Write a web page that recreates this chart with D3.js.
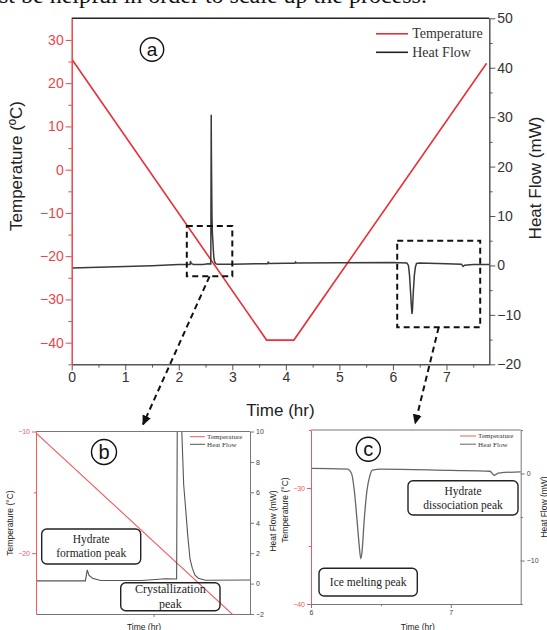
<!DOCTYPE html>
<html>
<head>
<meta charset="utf-8">
<script src="https://cdnjs.cloudflare.com/ajax/libs/d3/7.8.5/d3.min.js"></script>
<style>
body { margin: 0; background: #fff; }
svg { display: block; }
</style>
</head>
<body>
<script>
// temperature program (time in hr, temperature in ºC)
var tempTime  = [0, 3.64, 4.15, 7.75];
var tempValue = [25.6, -39.4, -39.4, 24.6];

// heat flow trace (time in hr, heat flow in mW)
var flowTime  = [0, 0.5, 1.0, 1.5, 2.0, 2.21, 2.218, 2.225, 2.24, 2.275, 2.45, 2.55, 2.598,
                 2.606, 2.61, 2.62, 2.628, 2.637, 2.645, 2.655, 2.665, 2.676, 2.69, 2.72,
                 3.0, 3.5, 3.66, 3.67, 3.69, 4.0, 4.17, 4.18, 4.2, 5.0, 6.0, 6.26, 6.29,
                 6.31, 6.33, 6.345, 6.356, 6.365, 6.38, 6.40, 6.42, 6.44, 6.5, 7.0, 7.28,
                 7.31, 7.34, 7.5, 7.8];
var flowValue = [-0.5, -0.35, -0.2, -0.05, 0.18, 0.18, 0.9, 0.55, 0.35, 0.2, 0.2, 0.32, 0.3,
                 30.5, 22, 10, 6.5, 4.8, 3.2, 1.6, 1.0, 0.55, 0.35, 0.22,
                 0.25, 0.35, 0.35, 0.65, 0.4, 0.45, 0.45, 0.7, 0.5, 0.55, 0.58, 0.5, 0,
                 -2, -5.5, -8.3, -9.8, -9, -5.5, -2, -0.3, 0.4, 0.5, 0.35, 0.26,
                 -0.2, 0.05, 0.18, 0.2];

// tick labels, main panel (a)
var timeTicks = [0, 1, 2, 3, 4, 5, 6, 7];
var timeMinor = [0.5, 1.5, 2.5, 3.5, 4.5, 5.5, 6.5, 7.5];
var tempTicks = [-40, -30, -20, -10, 0, 10, 20, 30];
var tempMinor = [-45, -35, -25, -15, -5, 5, 15, 25];
var flowTicks = [-20, -10, 0, 10, 20, 30, 40, 50];
var flowMinor = [-15, -5, 5, 15, 25, 35, 45];

// zoom windows drawn on panel (a): [t0, t1] and [flow0, flow1]
var boxBTime = [2.15, 3.0],  boxBFlow = [-2.2, 8];
var boxCTime = [6.08, 7.63], boxCFlow = [-12.5, 5];
var arrowTargetB = 2.455, arrowTargetC = 6.745;

// panel (b) ticks
var bTempTicks = [-20, -10], bTempMinor = [-15];
var bFlowTicks = [-2, 0, 2, 4, 6, 8, 10];
var bTimeTicks = [2.5];

// panel (c) ticks
var cTempTicks = [-40, -30], cTempMinor = [-35, -25];
var cFlowTicks = [-10, 0], cFlowMinor = [-15, -5, 5];
var cTimeTicks = [6, 7], cTimeMinor = [6.5];

var seriesNames = ["Temperature", "Heat Flow"];

var red = "#e8464b", redLine = "#ea2f36", gray = "#555", ink = "#333";
var sans = "'Liberation Sans', Arial, sans-serif";
var serif = "'Liberation Serif', 'Times New Roman', serif";

var tempPoints = d3.zip(tempTime, tempValue);
var flowPoints = d3.zip(flowTime, flowValue);

var svg = d3.select("body").append("svg")
    .attr("width", 547)
    .attr("height", 630);

var defs = svg.append("defs");
defs.append("marker")
    .attr("id", "arrowhead")
    .attr("markerUnits", "userSpaceOnUse")
    .attr("viewBox", "0 -5 10 10")
    .attr("refX", 9).attr("refY", 0)
    .attr("markerWidth", 10).attr("markerHeight", 10)
    .attr("orient", "auto")
    .append("path")
    .attr("d", "M0,-4.5L10,0L0,4.5Z")
    .attr("fill", "#111");

// cropped line of body text above the figure
svg.append("text")
    .attr("x", -1).attr("y", 3)
    .style("font-family", serif).style("font-size", "24px").attr("fill", "#111")
    .text("st be helpful in order to scale up the process.");

function clipFor(id, box) {
    defs.append("clipPath").attr("id", id)
        .append("rect")
        .attr("x", box.left).attr("y", box.top)
        .attr("width", box.right - box.left).attr("height", box.bottom - box.top);
    return "url(#" + id + ")";
}

// draws an axis with labelled ticks and unlabelled minor ticks
function drawAxis(g, axisFn, scale, major, minor, size, color, fontSize, fmt) {
    var ax = axisFn(scale).tickValues(major).tickSize(size).tickSizeOuter(0).tickPadding(2);
    if (fmt) ax.tickFormat(fmt);
    g.call(ax);
    if (minor && minor.length) {
        g.append("g").call(axisFn(scale).tickValues(minor).tickSize(size * 0.55)
            .tickSizeOuter(0).tickFormat(""))
            .select(".domain").remove();
    }
    g.selectAll("path, line").attr("stroke", color);
    g.selectAll("text").attr("fill", color)
        .style("font-family", sans).style("font-size", fontSize + "px");
}

function circledLetter(cx, cy, r, letter, fs) {
    svg.append("circle").attr("cx", cx).attr("cy", cy).attr("r", r)
        .attr("fill", "none").attr("stroke", "#111").attr("stroke-width", 1.4);
    svg.append("text").attr("x", cx).attr("y", cy + fs * 0.34)
        .attr("text-anchor", "middle")
        .style("font-family", sans).style("font-size", fs + "px").attr("fill", "#111")
        .text(letter);
}

function legend(x, y, gap, len, fs, colors) {
    seriesNames.forEach(function(name, i) {
        svg.append("line")
            .attr("x1", x).attr("x2", x + len)
            .attr("y1", y + i * gap).attr("y2", y + i * gap)
            .attr("stroke", colors[i]).attr("stroke-width", fs > 10 ? 1.6 : 1);
        svg.append("text")
            .attr("x", x + len + fs * 0.3).attr("y", y + i * gap + fs * 0.33)
            .style("font-family", serif).style("font-size", fs + "px").attr("fill", ink)
            .text(name);
    });
}

function note(x, y, w, h, lines, fs) {
    svg.append("rect").attr("x", x).attr("y", y).attr("width", w).attr("height", h)
        .attr("rx", 5).attr("ry", 5)
        .attr("fill", "none").attr("stroke", "#222").attr("stroke-width", 1.4);
    var lh = fs * 1.22;
    var y0 = y + h / 2 - (lines.length - 1) * lh / 2 + fs * 0.33;
    lines.forEach(function(l, i) {
        svg.append("text").attr("x", x + w / 2).attr("y", y0 + i * lh)
            .attr("text-anchor", "middle")
            .style("font-family", serif).style("font-size", fs + "px").attr("fill", "#222")
            .text(l);
    });
}

function axisTitle(x, y, rotate, text, fs) {
    svg.append("text")
        .attr("transform", "translate(" + x + "," + y + ")" + (rotate ? " rotate(-90)" : ""))
        .attr("text-anchor", "middle")
        .style("font-family", sans).style("font-size", fs + "px").attr("fill", "#222")
        .text(text);
}

// ---------- panel (a) ----------
var pa = { left: 71.7, right: 489.3, top: 18.3, bottom: 364.3 };
var xA = d3.scaleLinear().domain([0, 7.8]).range([pa.left, pa.right]);
var tA = d3.scaleLinear().domain([-45, 35]).range([pa.bottom, pa.top]);
var fA = d3.scaleLinear().domain([-20, 50]).range([pa.bottom, pa.top]);

var clipA = clipFor("clipA", pa);

svg.append("path")
    .datum(tempPoints)
    .attr("clip-path", clipA)
    .attr("fill", "none").attr("stroke", redLine).attr("stroke-width", 1.6)
    .attr("d", d3.line().x(function(d) { return xA(d[0]); }).y(function(d) { return tA(d[1]); }));

svg.append("path")
    .datum(flowPoints)
    .attr("clip-path", clipA)
    .attr("fill", "none").attr("stroke", "#3a3a3a").attr("stroke-width", 1.5)
    .attr("d", d3.line().x(function(d) { return xA(d[0]); }).y(function(d) { return fA(d[1]); }));

// top frame
svg.append("line")
    .attr("x1", pa.left).attr("x2", pa.right).attr("y1", pa.top).attr("y2", pa.top)
    .attr("stroke", "#222").attr("stroke-width", 1.5);

var axA = svg.append("g").attr("transform", "translate(0," + pa.bottom + ")");
drawAxis(axA, d3.axisBottom, xA, timeTicks, timeMinor, 6, gray, 14);
axA.selectAll("text").attr("fill", ink);
var ayA = svg.append("g").attr("transform", "translate(" + pa.left + ",0)");
drawAxis(ayA, d3.axisLeft, tA, tempTicks, tempMinor, 6, red, 14, d3.format("d"));
var ryA = svg.append("g").attr("transform", "translate(" + pa.right + ",0)");
drawAxis(ryA, d3.axisRight, fA, flowTicks, flowMinor, 6, gray, 14, d3.format("d"));
ryA.selectAll("text").attr("fill", ink);
svg.selectAll(".domain").attr("stroke-width", 1.5);

axisTitle(22, 166, true, "Temperature (ºC)", 17);
axisTitle(541, 178, true, "Heat Flow (mW)", 17);
axisTitle((pa.left + pa.right) / 2, 416, false, "Time (hr)", 17);

legend(376, 33.8, 18.5, 32, 14, [redLine, "#222"]);
circledLetter(152, 49.5, 11.7, "a", 19);

// ---------- panel (b) ----------
var pb = { left: 36, right: 250, top: 431.5, bottom: 614 };
var xB = d3.scaleLinear().domain([2.0, 2.91]).range([pb.left, pb.right]);
var tB = d3.scaleLinear().domain([-25, -10]).range([pb.bottom, pb.top]);
var fB = d3.scaleLinear().domain([-2, 10]).range([pb.bottom, pb.top]);
var clipB = clipFor("clipB", pb);

svg.append("path").datum(tempPoints).attr("clip-path", clipB)
    .attr("fill", "none").attr("stroke", "#f05a5e").attr("stroke-width", 1.1)
    .attr("d", d3.line().x(function(d) { return xB(d[0]); }).y(function(d) { return tB(d[1]); }));
svg.append("path").datum(flowPoints).attr("clip-path", clipB)
    .attr("fill", "none").attr("stroke", "#555").attr("stroke-width", 1.1)
    .attr("d", d3.line().x(function(d) { return xB(d[0]); }).y(function(d) { return fB(d[1]); }));

svg.append("line")
    .attr("x1", pb.left).attr("x2", pb.right).attr("y1", pb.top).attr("y2", pb.top)
    .attr("stroke", "#777").attr("stroke-width", 1);

var axB = svg.append("g").attr("transform", "translate(0," + pb.bottom + ")");
drawAxis(axB, d3.axisBottom, xB, bTimeTicks, [], 3, "#777", 7, function() { return ""; });
var ayB = svg.append("g").attr("transform", "translate(" + pb.left + ",0)");
drawAxis(ayB, d3.axisLeft, tB, bTempTicks, bTempMinor, 4, "#f05a5e", 7, d3.format("d"));
var ryB = svg.append("g").attr("transform", "translate(" + pb.right + ",0)");
drawAxis(ryB, d3.axisRight, fB, bFlowTicks, [], 4, "#777", 7, d3.format("d"));
ryB.selectAll("text").attr("fill", "#444");

axisTitle(13, 523, true, "Temperature (°C)", 8.5);
axisTitle(276, 521, true, "Heat Flow (mW)", 8.5);
axisTitle((pb.left + pb.right) / 2 + 1, 630, false, "Time (hr)", 8.5);

legend(190, 436.7, 7.6, 15, 7, ["#f05a5e", "#555"]);
circledLetter(104, 452, 12.5, "b", 20);
note(41.7, 529, 99, 35, ["Hydrate", "formation peak"], 11.5);
note(120.7, 582.7, 99.3, 28, ["Crystallization", "peak"], 12);

// ---------- panel (c) ----------
var pc = { left: 311, right: 520.7, top: 430, bottom: 604 };
var xC = d3.scaleLinear().domain([6, 7.5]).range([pc.left, pc.right]);
var tC = d3.scaleLinear().domain([-40, -25]).range([pc.bottom, pc.top]);
var fC = d3.scaleLinear().domain([-15, 5]).range([pc.bottom, pc.top]);
var clipC = clipFor("clipC", pc);

svg.append("path").datum(tempPoints).attr("clip-path", clipC)
    .attr("fill", "none").attr("stroke", "#f05a5e").attr("stroke-width", 1.1)
    .attr("d", d3.line().x(function(d) { return xC(d[0]); }).y(function(d) { return tC(d[1]); }));
svg.append("path").datum(flowPoints).attr("clip-path", clipC)
    .attr("fill", "none").attr("stroke", "#666").attr("stroke-width", 1.3)
    .attr("d", d3.line().curve(d3.curveMonotoneX)
        .x(function(d) { return xC(d[0]); }).y(function(d) { return fC(d[1]); }));

svg.append("line")
    .attr("x1", pc.left).attr("x2", pc.right).attr("y1", pc.top).attr("y2", pc.top)
    .attr("stroke", "#777").attr("stroke-width", 1);

var axC = svg.append("g").attr("transform", "translate(0," + pc.bottom + ")");
drawAxis(axC, d3.axisBottom, xC, cTimeTicks, cTimeMinor, 4, "#777", 7, d3.format("d"));
axC.selectAll("text").attr("fill", "#444");
var ayC = svg.append("g").attr("transform", "translate(" + pc.left + ",0)");
drawAxis(ayC, d3.axisLeft, tC, cTempTicks, cTempMinor, 4, "#f05a5e", 7, d3.format("d"));
var ryC = svg.append("g").attr("transform", "translate(" + pc.right + ",0)");
drawAxis(ryC, d3.axisRight, fC, cFlowTicks, cFlowMinor, 4, "#777", 7, d3.format("d"));
ryC.selectAll("text").attr("fill", "#444");

axisTitle(288, 510, true, "Temperature (°C)", 8.5);
axisTitle(547, 507, true, "Heat Flow (mW)", 8.5);
axisTitle((pc.left + pc.right) / 2 + 2, 630, false, "Time (hr)", 8.5);

legend(460, 436, 8.2, 16, 7, ["#f05a5e", "#666"]);
circledLetter(368.3, 449.3, 12, "c", 20);
note(408, 480.7, 110, 34.3, ["Hydrate", "dissociation peak"], 11.5);
note(319, 568.3, 98.3, 27.7, ["Ice melting peak"], 11.5);

// ---------- zoom windows and arrows ----------
function zoomBox(times, flows, targetX, targetY) {
    var x0 = xA(times[0]), x1 = xA(times[1]);
    var y0 = fA(flows[1]), y1 = fA(flows[0]);
    svg.append("rect")
        .attr("x", x0).attr("y", y0).attr("width", x1 - x0).attr("height", y1 - y0)
        .attr("fill", "none").attr("stroke", "#111").attr("stroke-width", 2)
        .attr("stroke-dasharray", "6,4");
    svg.append("line")
        .attr("x1", (x0 + x1) / 2).attr("y1", y1)
        .attr("x2", targetX).attr("y2", targetY)
        .attr("stroke", "#111").attr("stroke-width", 2)
        .attr("stroke-dasharray", "6,4")
        .attr("marker-end", "url(#arrowhead)");
}
zoomBox(boxBTime, boxBFlow, xB(arrowTargetB), pb.top - 7);
zoomBox(boxCTime, boxCFlow, xC(arrowTargetC), pc.top - 6.5);
</script>
</body>
</html>
